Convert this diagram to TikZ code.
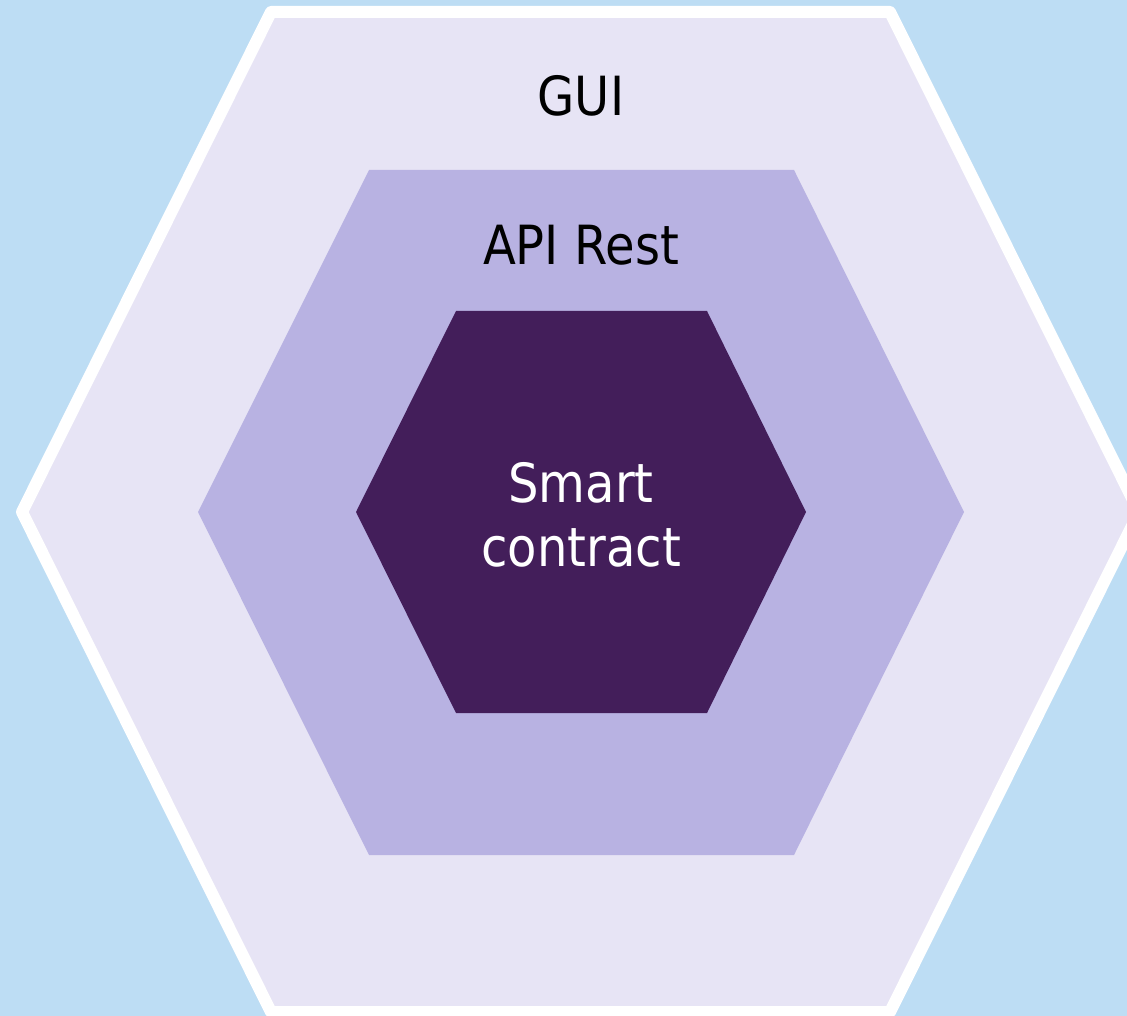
\documentclass[tikz,border=0pt]{standalone}
\usepackage{fontspec}
\setmainfont{DejaVu Sans}[FakeStretch=0.89]
\definecolor{bgblue}{HTML}{BDDDF4}
\definecolor{guifill}{HTML}{E7E4F5}
\definecolor{apifill}{HTML}{B8B2E2}
\definecolor{scfill}{HTML}{431E5A}
\tikzset{
  lbl/.style={anchor=base, inner sep=0pt, font=\fontsize{54}{64}\selectfont},
}
\begin{document}
\begin{tikzpicture}[x=1pt,y=-1pt]
\useasboundingbox (0,0) rectangle (1127,1016);
\clip (0,0) rectangle (1127,1016);
\fill[bgblue] (0,0) rectangle (1127,1016);
% outer hexagon (GUI)
\draw[fill=guifill, draw=white, line width=12pt, line join=round]
  (271,12) -- (890,12) -- (1139,512) -- (890,1012) -- (271,1012) -- (22,512) -- cycle;
% middle hexagon (API Rest)
\fill[apifill] (369,170) -- (794,170) -- (964,512) -- (794,855) -- (369,855) -- (198,512) -- cycle;
% inner hexagon (Smart contract)
\fill[scfill] (456,311) -- (707,311) -- (806,512) -- (707,713) -- (456,713) -- (356,512) -- cycle;
\node[lbl] (gui) at (581,116) {GUI};
\node[lbl] (api) at (581,265) {API Rest};
\node[lbl, text=white] (sc1) at (581,502) {Smart};
\node[lbl, text=white] (sc2) at (581,566) {contract};
\end{tikzpicture}
\end{document}
